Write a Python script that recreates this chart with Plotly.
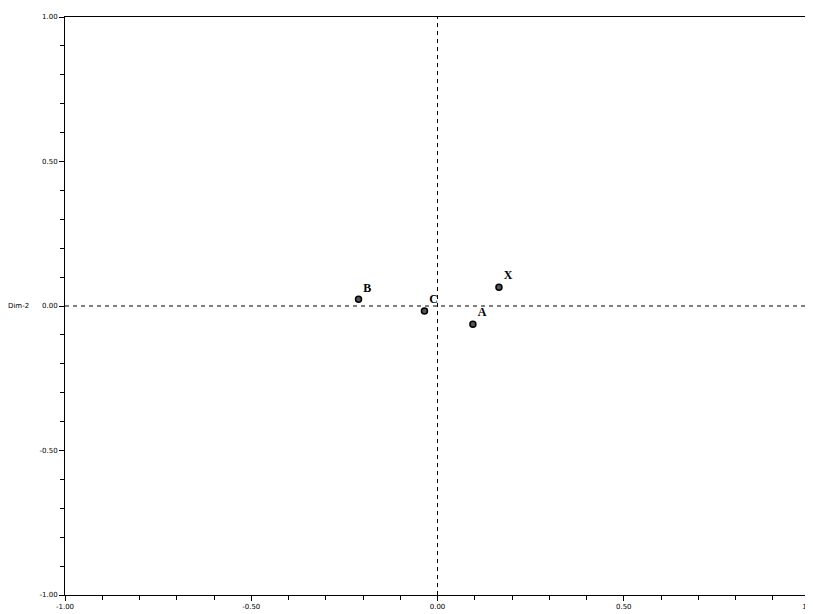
import plotly.graph_objects as go

labels = ["A", "B", "C", "X"]
dim1 = [0.095, -0.212, -0.035, 0.165]
dim2 = [-0.063, 0.023, -0.017, 0.065]
tick_vals = [-1.0, -0.5, 0.0, 0.5, 1.0]
tick_text = ["-1.00", "-0.50", "0.00", "0.50", "1.00"]

fig = go.Figure()
fig.add_trace(go.Scatter(
    x=dim1, y=dim2, mode="markers+text", text=labels,
    textposition="top right",
    textfont=dict(family="Liberation Serif", size=12, color="black", weight="bold"),
    marker=dict(symbol="circle", size=6, color="#555555", line=dict(color="black", width=1.5)),
    showlegend=False, cliponaxis=False,
))

fig.add_shape(type="line", x0=0, x1=0, y0=-1, y1=1, xref="x", yref="y",
              line=dict(color="black", width=1, dash="4px,4px"), layer="below")
fig.add_shape(type="line", x0=-1, x1=1, y0=0, y1=0, xref="x", yref="y",
              line=dict(color="black", width=1, dash="4px,4px"), layer="below")

axis_common = dict(
    tickvals=tick_vals, ticktext=tick_text, ticks="outside", ticklen=5,
    tickwidth=1, tickcolor="black", showline=True, linecolor="black",
    linewidth=1, mirror=True, showgrid=False, zeroline=False, automargin=False,
    ticklabeloverflow="allow",
    tickfont=dict(family="DejaVu Sans", size=7, color="black"),
    minor=dict(dtick=0.1, tick0=0, ticks="outside", ticklen=4, tickcolor="black", showgrid=False),
)

fig.update_xaxes(range=[-1, 1], **axis_common)
fig.update_yaxes(range=[-1, 1], **axis_common)

fig.add_annotation(text="Dim-2", xref="paper", yref="y", x=-0.045, y=0,
                   xanchor="right", showarrow=False,
                   font=dict(family="DejaVu Sans", size=7, color="black"))

# page body has an 8px default margin; compensate so the plot area lands where the reference has it
fig.update_layout(
    width=805, height=606,
    margin=dict(l=57, r=3, t=9, b=19),
    plot_bgcolor="white", paper_bgcolor="white",
)

fig.write_html("out.html")
